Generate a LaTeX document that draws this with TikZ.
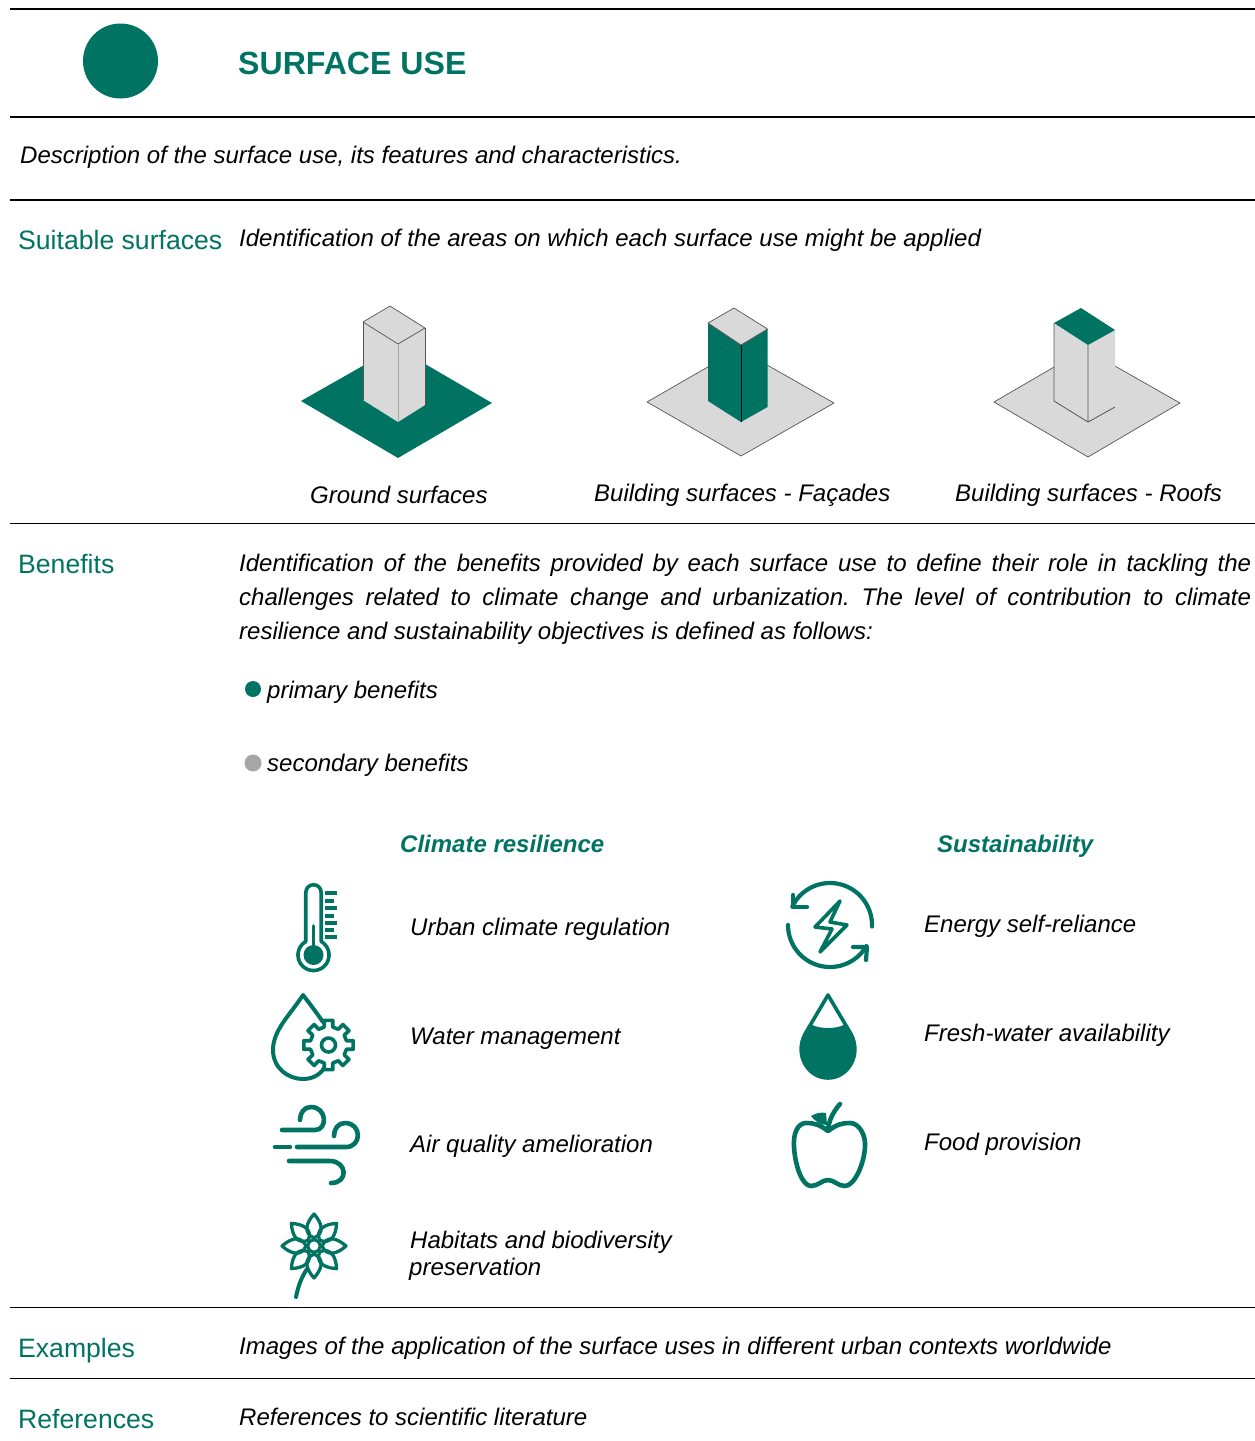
\documentclass[tikz,border=0pt]{standalone}
\usepackage{fontspec}
\setmainfont{Liberation Sans}
\frenchspacing
\definecolor{teal1}{HTML}{007363}
\definecolor{grey1}{HTML}{D9D9D9}
\definecolor{grey2}{HTML}{A6A6A6}
\definecolor{edge1}{HTML}{555555}
\newcommand{\fs}[1]{\fontsize{#1}{#1}\selectfont}
\tikzset{
  x=1pt,y=-1pt,
  rule/.style={draw=black,line width=1.5pt},
  body/.style={anchor=base west,inner sep=0pt,font=\fs{24}\itshape,text=black},
  head/.style={anchor=base west,inner sep=0pt,font=\fs{26.6},text=teal1},
  subhead/.style={anchor=base west,inner sep=0pt,font=\fs{24}\bfseries\itshape,text=teal1},
  icon/.style={draw=teal1,line width=3.6pt,line cap=round,line join=round},
  thick icon/.style={icon,line width=4.6pt},
  plate/.style={draw=edge1,line width=.7pt,line join=round},
}
\begin{document}
\begin{tikzpicture}
\useasboundingbox (0,0) rectangle (1255,1441);
% rules
\foreach \yy in {9,117,200,523.5,1307.5,1378.5}{\draw[rule] (10,\yy) -- (1255,\yy);}
% header
\fill[teal1] (120.5,61) circle[radius=37.5];
\node[anchor=base west,inner sep=0pt,font=\fs{32.1}\bfseries,text=teal1] (title) at (238,74) {SURFACE USE};
\node[body] (desc) at (20,163) {Description of the surface use, its features and characteristics.};
% suitable surfaces
\node[head] (h1) at (18,249) {Suitable surfaces};
\node[body] (t1) at (239,246) {Identification of the areas on which each surface use might be applied};
% scene 1
\fill[teal1] (301,401) -- (396,347) -- (492,403) -- (398,458) -- cycle;
\path[fill=grey1] (363,322) -- (390,306) -- (425,328) -- (425,405) -- (398,422) -- (363,400) -- cycle;
\draw[draw=edge1,line width=.7pt,line join=round] (363,322) -- (390,306) -- (425,328) -- (398,344) -- cycle;
\draw[draw=edge1,line width=.7pt] (363,322) -- (363,400) (425,328) -- (425,405);
\draw[draw=gray!70,line width=.5pt] (398,344) -- (398,422);
\node[body] (l1) at (310,503) {Ground surfaces};
% scene 2
\path[plate,fill=grey1] (647,402) -- (739,349) -- (834,403) -- (741,456) -- cycle;
\path[fill=teal1] (708,323) -- (741,345) -- (767.5,329) -- (767.5,407) -- (741,422) -- (708,401) -- cycle;
\path[plate,fill=grey1] (708,323) -- (734,308) -- (767.5,329) -- (741,345) -- cycle;
\draw[black,line width=.7pt] (741,345) -- (741,422);
\node[body] (l2) at (594,501) {Building surfaces - Façades};
% scene 3
\path[plate,fill=grey1] (994,402) -- (1085,349) -- (1180,403) -- (1088,457) -- cycle;
\path[fill=grey1] (1054,323) -- (1088,345) -- (1115,330) -- (1115,407) -- (1088,422) -- (1054,401) -- cycle;
\draw[draw=edge1,line width=.8pt,line join=round] (1054,323) -- (1054,401) -- (1088,422) -- (1115,407) (1088,345) -- (1088,422);
\fill[teal1] (1054,323) -- (1081,308) -- (1115,330) -- (1088,345) -- cycle;
\node[body] (l3) at (955,501) {Building surfaces - Roofs};
% benefits
\node[head] (h2) at (18,573) {Benefits};
\node[body] (p1) at (239,571) {\makebox[1012pt][s]{Identification of the benefits provided by each surface use to define their role in tackling the}};
\node[body] (p2) at (239,605) {\makebox[1012pt][s]{challenges related to climate change and urbanization. The level of contribution to climate}};
\node[body] (p3) at (239,639) {resilience and sustainability objectives is defined as follows:};
\fill[teal1] (253,689) circle[radius=8];
\node[body] (b1) at (267,698) {primary benefits};
\fill[grey2] (253,763) circle[radius=8.5];
\node[body] (b2) at (267,771) {secondary benefits};
\node[subhead] (s1) at (400,852) {Climate resilience};
\node[subhead] (s2) at (937,852) {Sustainability};
\node[body] (c1) at (410,935) {Urban climate regulation};
\node[body] (c2) at (410,1044) {Water management};
\node[body] (c3) at (410,1152) {Air quality amelioration};
\node[body] (c4) at (410,1248) {Habitats and biodiversity};
\node[body] (c5) at (409,1275) {preservation};
\node[body] (e1) at (924,932) {Energy self-reliance};
\node[body] (e2) at (924,1041) {Fresh-water availability};
\node[body] (e3) at (924,1150) {Food provision};
% thermometer
\draw[icon] (305.75,941.6) -- (305.75,893) .. controls (305.75,882) and (321.25,882) .. (321.25,893) -- (321.25,941.6);
\draw[icon] plot[domain=60:-240,samples=50,smooth] ({313.5+15.5*cos(\x)},{955-15.5*sin(\x)});
\fill[teal1] (313.5,955) circle[radius=10];
\draw[icon] (313.5,926) -- (313.5,950);
\foreach \yy/\xe in {893/337,901/334,908/337,916/334,923/337,930/334,937/337}{\draw[icon,line width=3.4pt,line cap=butt] (325,\yy) -- (\xe,\yy);}
% drop + gear
\draw[thick icon,line width=4pt] (323,1022) .. controls (316,1012) and (310,1004) .. (303,995) .. controls (290,1015) and (273,1030) .. (273,1050) .. controls (273,1068) and (288,1079) .. (303,1079) .. controls (312,1079) and (320,1075) .. (324,1068);
\begin{scope}[shift={(328.5,1045)}]
\draw[icon] \foreach \a in {0,45,...,315}{ (\a-13:18.5) -- (\a-10:25) -- (\a+10:25) -- (\a+13:18.5) -- (\a+32:18.5)};
\draw[icon] (0,0) circle[radius=7];
\end{scope}
% wind
\draw[thick icon] (282,1130) -- (315,1130) .. controls (328,1130) and (327,1107) .. (311,1107) .. controls (304,1107) and (300,1113) .. (300,1120);
\draw[thick icon] (297,1147) -- (346,1147) .. controls (362,1147) and (362,1123) .. (345,1123) .. controls (338,1123) and (334,1129) .. (334,1136);
\draw[thick icon] (275,1147) -- (290,1147);
\draw[thick icon] (289,1161) -- (330,1161) .. controls (347,1161) and (349,1183) .. (331,1183);
% flower
\begin{scope}[shift={(314,1246)}]
\foreach \a in {0,45,...,315}{
  \draw[icon,line width=3.3pt,rotate=\a] (8,0) .. controls (13,-11) and (23,-8) .. (32,0) .. controls (23,8) and (13,11) .. (8,0);
}
\fill[white] (0,0) circle[radius=5];
\draw[icon,line width=3pt] (0,0) circle[radius=6];
\end{scope}
\draw[icon,line width=4pt] (307,1269) .. controls (301,1278) and (298,1287) .. (296,1297);
% energy
\draw[thick icon,line width=4.2pt] plot[domain=-2:154,samples=50,smooth] ({830+42*cos(\x)},{925-42*sin(\x)});
\draw[thick icon,line width=4.2pt] plot[domain=180:330,samples=50,smooth] ({830+42*cos(\x)},{925-42*sin(\x)});
\draw[thick icon,line width=4.2pt] (793,895) -- (793,907) -- (807,907);
\draw[thick icon,line width=4.2pt] (853,947) -- (867,947) -- (866,960);
\draw[icon] (840,901) -- (815,927) -- (832,929) -- (820,952) -- (847,925) -- (830,922) -- cycle;
% full drop
\draw[icon,fill=white] (828,995) -- (805,1034) .. controls (794,1055) and (808,1078) .. (828,1078) .. controls (848,1078) and (862,1055) .. (851,1034) -- cycle;
\fill[teal1] (812,1025) -- (805,1034) .. controls (794,1055) and (808,1078) .. (828,1078) .. controls (848,1078) and (862,1055) .. (851,1034) -- (844,1025) .. controls (835,1029) and (821,1029) .. cycle;
% apple
\draw[thick icon] (828,1131) .. controls (820,1125) and (815,1123) .. (806,1123) .. controls (797,1123) and (793,1135) .. (794,1147) .. controls (795,1165) and (802,1186) .. (811,1186) .. controls (818,1186) and (822,1180) .. (828,1180) .. controls (834,1180) and (838,1186) .. (845,1186) .. controls (854,1186) and (864,1165) .. (865,1147) .. controls (866,1135) and (859,1123) .. (850,1123) .. controls (841,1123) and (836,1125) .. (828,1131) -- cycle;
\draw[thick icon] (828,1130) .. controls (829,1120) and (833,1112) .. (840,1104);
\fill[teal1] (811,1116) .. controls (816,1113) and (821,1112) .. (826,1113) -- (827,1125) .. controls (820,1125) and (815,1121) .. (811,1116) -- cycle;
% examples, references
\node[head] (h3) at (18,1357) {Examples};
\node[body] (t3) at (239,1354) {Images of the application of the surface uses in different urban contexts worldwide};
\node[head] (h4) at (18,1428) {References};
\node[body] (t4) at (239,1425) {References to scientific literature};
\end{tikzpicture}
\end{document}
